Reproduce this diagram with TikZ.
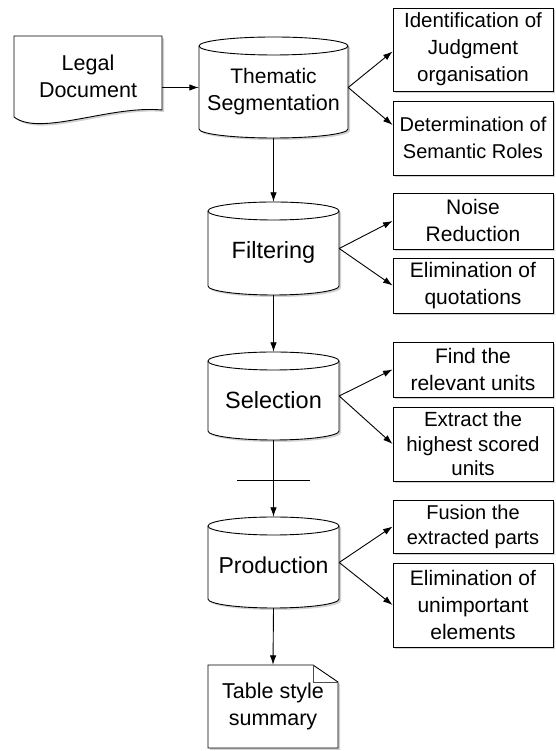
\documentclass[tikz,border=0pt]{standalone}
\usepackage{fontspec}
\setmainfont{Liberation Sans}
\usetikzlibrary{arrows.meta,shadows}
\tikzset{
  shp/.style={draw=black, line width=0.9pt, fill=white,
    drop shadow={shadow xshift=2pt, shadow yshift=-2pt, opacity=0.35}},
  lbl/.style={align=center, font=\fontsize{21.5pt}{27pt}\selectfont, inner sep=0pt},
  sidebox/.style={shp, rectangle, minimum width=160pt, minimum height=#1,
    align=center, font=\fontsize{21pt}{27pt}\selectfont, inner sep=0pt},
  anchorbox/.style={draw=none, rectangle, inner sep=0pt},
  conn/.style={line width=0.9pt, -{Latex[length=9.5pt,width=6.5pt]}},
  plain/.style={line width=0.9pt},
}
% name, cx, half width, top ellipse centre Y, bottom arc centre Y, text Y, text
\newcommand{\mycyl}[7]{%
  \draw[shp] (#2-#3,#4) -- (#2-#3,#5)
    arc[start angle=180,end angle=360,x radius=#3,y radius=9]
    -- (#2+#3,#4)
    arc[start angle=0,end angle=180,x radius=#3,y radius=9] -- cycle;
  \draw[plain] (#2-#3,#4) arc[start angle=180,end angle=360,x radius=#3,y radius=9];
  \node[anchorbox, minimum width={2*#3*1pt}, minimum height={(#4-#5+18)*1pt}] (#1) at (#2,{(#4+#5)/2}) {};
  \node[lbl] (#1-t) at (#2,#6) {#7};
}
\begin{document}
\begin{tikzpicture}[x=1pt,y=1pt]
\useasboundingbox (0,0) rectangle (555,751);
\fill[white] (0,0) rectangle (555,751);

% Legal document
\draw[shp] (14,715) -- (162,715) -- (162,641)
  .. controls (110,646) and (40,614) .. (14,634) -- cycle;
\node[anchorbox, minimum width=148pt, minimum height=81pt, lbl] (legal) at (88,674.5) {Legal\\Document};

% cylinders
\mycyl{thm}{273.5}{74.5}{705}{622}{659}{\fontsize{21pt}{27pt}\selectfont Thematic\\Segmentation}
\mycyl{flt}{273.5}{65.5}{540}{465}{499}{\fontsize{23.5pt}{28pt}\selectfont Filtering}
\mycyl{sel}{273.5}{65.5}{390}{320}{351}{\fontsize{23.5pt}{28pt}\selectfont Selection}
\mycyl{prod}{273.5}{65.5}{225}{152}{186}{\fontsize{23pt}{28pt}\selectfont Production}

% summary document
\draw[shp] (208,86) -- (313,86) -- (338,69) -- (338,3) -- (208,3) -- cycle;
\draw[plain, black!70] (313,86) -- (313,69) -- (338,69);
\node[anchorbox, minimum width=130pt, minimum height=83pt, lbl] (summ) at (273,44.5) {Table style\\summary};

% side boxes
\node[sidebox=83pt, font=\fontsize{20.5pt}{27pt}\selectfont] (idb) at (473,701.5) {Identification of\\Judgment\\organisation};
\node[sidebox=74pt, font=\fontsize{20pt}{27pt}\selectfont] (det) at (473,613) {Determination of\\Semantic Roles};
\node[sidebox=56pt] (noise) at (473,530) {Noise\\Reduction};
\node[sidebox=55pt] (quot) at (473,465.5) {Elimination of\\quotations};
\node[sidebox=55pt] (find) at (473,381.5) {Find the\\relevant units};
\node[sidebox=74pt, font=\fontsize{20.5pt}{24.5pt}\selectfont] (extr) at (473,307) {Extract the\\highest scored\\units};
\node[sidebox=53pt, font=\fontsize{20pt}{25pt}\selectfont] (fus) at (473,224.5) {Fusion the\\extracted parts};
\node[sidebox=84pt] (elim) at (473,146) {Elimination of\\unimportant\\elements};

% connectors
\draw[conn] (legal.east |- thm.west) -- (thm.west);
\draw[conn] (thm.east) -- ([yshift=-2pt]idb.west);
\draw[conn] (thm.east) -- ([yshift=13pt]det.west);
\draw[conn] (thm.south) -- (flt.north);
\draw[conn] (flt.east) -- (noise.west);
\draw[conn] (flt.east) -- (quot.west);
\draw[conn] (flt.south) -- (sel.north);
\draw[conn] (sel.east) -- (find.west);
\draw[conn] (sel.east) -- (extr.west);
\draw[conn] (sel.south) -- (prod.north);
\draw[plain] (237,271) -- (310,271);
\draw[conn] (prod.east) -- (fus.west);
\draw[conn] (prod.east) -- (elim.west);
\draw[conn] (prod.south) -- (summ.north);
\end{tikzpicture}
\end{document}
